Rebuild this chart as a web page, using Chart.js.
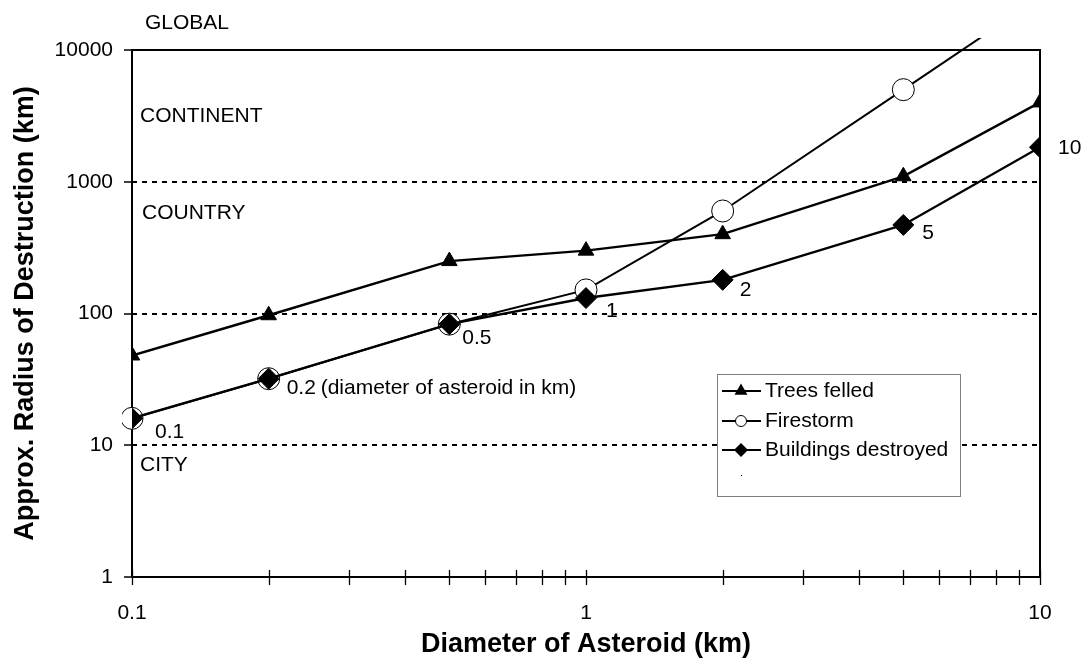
<!DOCTYPE html>
<html><head><meta charset="utf-8">
<script src="https://cdn.jsdelivr.net/npm/chart.js@4/dist/chart.umd.min.js"></script>
<style>html,body{margin:0;padding:0;background:#fff;}canvas{display:block;}</style>
</head><body>
<canvas id="c" width="1089" height="663"></canvas>
<script>
// ---- data ----
const diameters = [0.1, 0.2, 0.5, 1, 2, 5, 10];
const treesFelled = [48, 97, 250, 300, 400, 1100, 4000];
const firestorm = [16, 32, 83, 151, 600, 5000, 25000];
const buildingsDestroyed = [16, 32, 83, 131, 180, 470, 1830];
const seriesNames = ['Trees felled', 'Firestorm', 'Buildings destroyed'];
const xTickValues = [0.1, 1, 10];
const xMinorTickValues = [0.2, 0.3, 0.4, 0.5, 0.6, 0.7, 0.8, 0.9, 2, 3, 4, 5, 6, 7, 8, 9];
const yTickValues = [1, 10, 100, 1000, 10000];
const pointLabels = ['0.1', '0.2', '0.5', '1', '2', '5', '10'];
const noteText = '(diameter of asteroid in km)';
const zoneLabels = ['GLOBAL', 'CONTINENT', 'COUNTRY', 'CITY'];
const zoneLevels = [16000, 3160, 580, 7];

// ---- styling ----
const FONT = '"Liberation Sans", Arial, Helvetica, sans-serif';
const pointLabelOffsets = [[23, 14], [18, 10], [13, 14], [20, 13], [17, 10], [19, 8], [18, 1]];
const toXY = (xs, ys) => xs.map((x, i) => ({x: x, y: ys[i]}));

const decor = {
  id: 'decor',
  beforeDatasetsDraw(chart) {
    const {ctx, chartArea: a, scales: {x}} = chart;
    ctx.save();
    ctx.strokeStyle = '#000';
    ctx.lineWidth = 1.3;
    ctx.beginPath();
    xMinorTickValues.concat(xTickValues).forEach(v => {
      const px = Math.round(x.getPixelForValue(v)) + 0.5;
      ctx.moveTo(px, a.bottom - 7);
      ctx.lineTo(px, a.bottom + 8);
    });
    ctx.stroke();
    ctx.lineWidth = 2;
    ctx.strokeRect(a.left, a.top, a.right - a.left, a.bottom - a.top);
    ctx.restore();
  },
  afterDatasetsDraw(chart) {
    const {ctx, chartArea: a, scales: {x, y}} = chart;
    ctx.save();
    ctx.fillStyle = '#000';
    ctx.font = '21px ' + FONT;
    ctx.textBaseline = 'middle';
    ctx.textAlign = 'left';
    // point labels along buildings series
    diameters.forEach((d, i) => {
      const px = x.getPixelForValue(d), py = y.getPixelForValue(buildingsDestroyed[i]);
      const [dx, dy] = pointLabelOffsets[i];
      ctx.fillText(pointLabels[i], px + dx, py + dy);
      if (i === 1) ctx.fillText(noteText, px + 52, py + dy);
    });
    // zone labels
    zoneLabels.forEach((t, i) => {
      ctx.fillText(t, a.left + (i === 0 ? 13 : (i === 2 ? 10 : 8)), y.getPixelForValue(zoneLevels[i]));
    });
    // legend
    const lx = 717, ly = 374, lw = 243, lh = 122;
    ctx.fillStyle = '#fff';
    ctx.fillRect(lx, ly, lw, lh);
    ctx.strokeStyle = '#7f7f7f';
    ctx.lineWidth = 1;
    ctx.strokeRect(lx + 0.5, ly + 0.5, lw, lh);
    const rows = [391, 421, 450];
    chart.data.datasets.forEach((ds, i) => {
      const yy = rows[i];
      ctx.strokeStyle = '#000';
      ctx.lineWidth = 2;
      ctx.beginPath();
      ctx.moveTo(722, yy); ctx.lineTo(761, yy);
      ctx.stroke();
      ctx.beginPath();
      const cx = 741;
      if (ds.pointStyle === 'triangle') {
        const r = 7.5;
        ctx.moveTo(cx, yy - r);
        ctx.lineTo(cx + r * 0.866, yy + r * 0.5);
        ctx.lineTo(cx - r * 0.866, yy + r * 0.5);
        ctx.closePath();
        ctx.fillStyle = '#000'; ctx.fill();
      } else if (ds.pointStyle === 'circle') {
        ctx.arc(cx, yy, 5.5, 0, Math.PI * 2);
        ctx.fillStyle = '#fff'; ctx.fill();
        ctx.lineWidth = 1; ctx.stroke();
      } else {
        const r = 7;
        ctx.moveTo(cx - r, yy); ctx.lineTo(cx, yy - r); ctx.lineTo(cx + r, yy); ctx.lineTo(cx, yy + r);
        ctx.closePath();
        ctx.fillStyle = '#000'; ctx.fill();
      }
      ctx.fillStyle = '#000';
      ctx.fillText(ds.label, 765, yy);
    });
    ctx.fillRect(741, 475, 1, 1);
    ctx.restore();
  }
};

const axisFont = {family: FONT, size: 21};
const titleFont = {family: FONT, size: 27, weight: 'bold'};

new Chart(document.getElementById('c'), {
  type: 'line',
  data: {
    datasets: [
      {
        label: seriesNames[0], data: toXY(diameters, treesFelled), order: 1,
        borderColor: '#000', backgroundColor: '#000', borderWidth: 2.4,
        pointStyle: 'triangle', pointRadius: 9, pointBorderWidth: 1,
        pointBackgroundColor: '#000', pointBorderColor: '#000', tension: 0
      },
      {
        label: seriesNames[1], data: toXY(diameters, firestorm), order: 2,
        borderColor: '#000', backgroundColor: '#fff', borderWidth: 2,
        pointStyle: 'circle', pointBorderWidth: 1,
        pointRadius: c => (c.raw && c.raw.y > 10000 ? 0 : 11),
        pointBackgroundColor: '#fff', pointBorderColor: '#000', tension: 0,
        clip: {left: 10, top: 12, right: 10, bottom: 10}
      },
      {
        label: seriesNames[2], data: toXY(diameters, buildingsDestroyed), order: 0,
        borderColor: '#000', backgroundColor: '#000', borderWidth: 2.4,
        pointStyle: 'rectRot', pointRadius: 10.5, pointBorderWidth: 1,
        pointBackgroundColor: '#000', pointBorderColor: '#000', tension: 0
      }
    ]
  },
  options: {
    responsive: false,
    animation: false,
    layout: {padding: {top: 50, right: 49, left: 0, bottom: 0}},
    plugins: {legend: {display: false}, tooltip: {enabled: false}},
    scales: {
      x: {
        type: 'logarithmic', min: 0.1, max: 10,
        afterBuildTicks: s => { s.ticks = xTickValues.map(v => ({value: v})); },
        afterFit: s => { s.height = 86; },
        grid: {display: false},
        border: {display: false},
        ticks: {
          autoSkip: false, maxRotation: 0, color: '#000', font: axisFont, padding: 16,
          callback: v => (v === 0.1 ? '0.1' : String(v))
        },
        title: {display: true, text: 'Diameter of Asteroid (km)', color: '#000', font: titleFont, padding: {top: 0, bottom: 2}}
      },
      y: {
        type: 'logarithmic', min: 1, max: 10000,
        afterBuildTicks: s => { s.ticks = yTickValues.map(v => ({value: v})); },
        afterFit: s => { s.width = 132; },
        grid: {
          display: true, drawTicks: true, tickLength: 8,
          color: c => (c.tick && (c.tick.value === 1 || c.tick.value === 10000) ? 'rgba(0,0,0,0)' : '#000'),
          lineWidth: 2,
          tickColor: '#000', tickWidth: 1.5, tickBorderDash: []
        },
        border: {display: false, dash: [5, 5]},
        ticks: {
          color: '#000', font: axisFont, padding: 11,
          callback: v => String(v)
        },
        title: {display: true, text: 'Approx. Radius of Destruction (km)', color: '#000', font: titleFont, padding: {top: 9, bottom: 0}}
      }
    }
  },
  plugins: [decor]
});
</script>
</body></html>
